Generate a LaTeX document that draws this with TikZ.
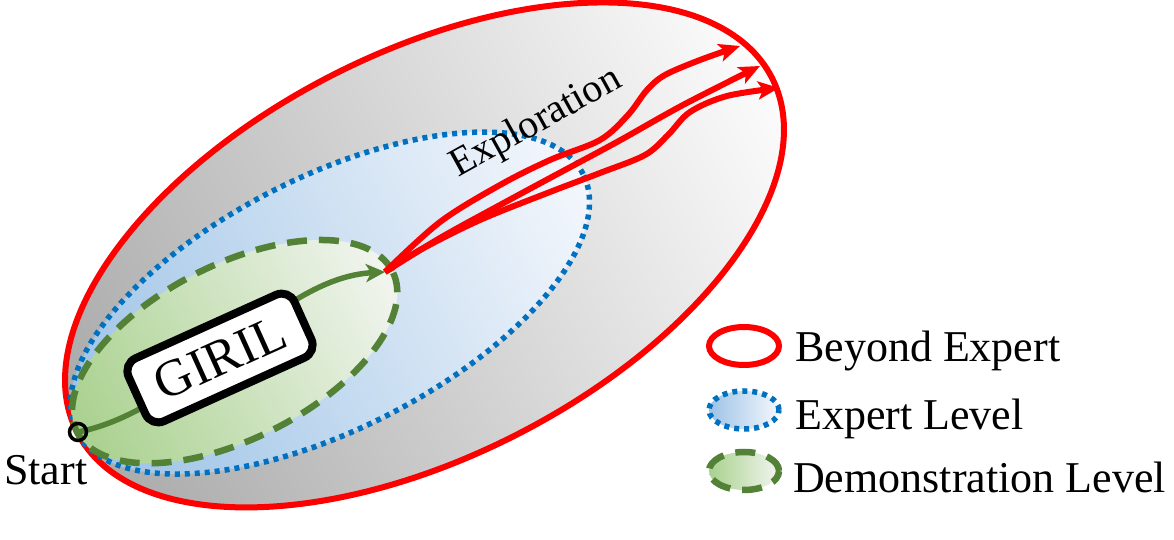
\documentclass[tikz,border=0pt]{standalone}
\usepackage{fontspec}
\setmainfont{Liberation Serif}
\newfontfamily\tnr{Liberation Serif}
\usetikzlibrary{arrows.meta,calc}
\definecolor{redE}{HTML}{FF0000}
\definecolor{blueE}{HTML}{0070C0}
\definecolor{greenE}{HTML}{538135}
\definecolor{grayL}{HTML}{AAAAAA}
\definecolor{grayR}{HTML}{FCFCFC}
\definecolor{blueL}{HTML}{9DC3E6}
\definecolor{blueR}{HTML}{F4F7FC}
\definecolor{greenL}{HTML}{A9D18E}
\definecolor{greenR}{HTML}{F2F5F0}
\begin{document}
\begin{tikzpicture}[x=1pt,y=1pt,
  beyond/.style={draw=redE, line width=6pt},
  expert/.style={draw=blueE, line width=5.5pt, dash pattern=on 5pt off 5pt},
  demo/.style={draw=greenE, line width=6.5pt, dash pattern=on 20pt off 12pt},
  explore/.style={draw=redE, line width=6pt, line join=round, -{Stealth[length=21pt,width=18pt,inset=5pt]}},
  trajectory/.style={draw=greenE, line width=5.5pt, -{Stealth[length=19pt,width=18pt,inset=5pt]}},
  legtext/.style={anchor=base west, font=\tnr\fontsize{44}{50}\selectfont, inner sep=0pt},
  method/.style={draw=black, fill=white, line width=8pt, rounded corners=14pt,
    minimum width=182pt, minimum height=69pt, inner sep=0pt, font=\tnr\fontsize{52}{58}\selectfont},
  startpt/.style={circle, draw=black, line width=3.5pt, minimum size=17pt, inner sep=0pt}
]
\useasboundingbox (0,0) rectangle (1174,540);

% nested regions sharing the start vertex (canvas-rotated so the gradients follow the axis)
\begin{scope}[transform canvas={shift={(77,108)}, rotate=27}]
  \shade[left color=grayL, right color=grayR] (390,0) ellipse [x radius=390, y radius=202];
  \path[beyond] (390,0) ellipse [x radius=390, y radius=202];
  \shade[left color=blueL, right color=blueR] (284,0) ellipse [x radius=284, y radius=126];
  \path[expert] (284,0) ellipse [x radius=284, y radius=126];
  \shade[left color=greenL, right color=greenR] (177,0) ellipse [x radius=177, y radius=87];
  \path[demo] (177,0) ellipse [x radius=177, y radius=87];
\end{scope}

\coordinate (S) at (78,108);
\coordinate (P) at (385,268);
\coordinate (e1) at (740,494);
\coordinate (e2) at (760,474);
\coordinate (e3) at (779,452);

% demonstration trajectory (behind GIRIL box)
\draw[trajectory] (S) .. controls (190,130) and (275,262) .. (P);

\node[method, rotate=24.3] (giril) at (220,182) {GIRIL};

% exploration arrows
\draw[explore] plot[smooth, tension=0.55] coordinates {(P) (440,318) (500,355) (550,380) (600,400) (628,425) (647,450) (665,465) (700,480) (e1)};
\draw[explore] plot[smooth, tension=0.55] coordinates {(P) (440,302) (500,335) (550,362) (617,398) (683,435) (e2)};
\draw[explore] plot[smooth, tension=0.55] coordinates {(P) (420,290) (480,320) (550,348) (600,367) (645,385) (668,405) (690,428) (727,444) (e3)};

\node[anchor=base, rotate=29, font=\tnr\fontsize{40}{46}\selectfont, inner sep=0pt] (expl) at (541,408) {Exploration};

\node[startpt] (start) at (S) {};
\node[legtext] (startlbl) at (4,55) {Start};

% legend
\path[beyond] (744,194) ellipse [x radius=35, y radius=19];
\shade[left color=blueL, right color=blueR] (744,130) ellipse [x radius=35, y radius=19];
\path[expert] (744,130) ellipse [x radius=35, y radius=19];
\shade[left color=greenL, right color=greenR] (744,69) ellipse [x radius=35, y radius=19];
\path[demo] (744,69) ellipse [x radius=35, y radius=19];
\node[legtext] (l1) at (795,178) {Beyond Expert};
\node[legtext] (l2) at (795,110) {Expert Level};
\node[legtext] (l3) at (793,47) {Demonstration Level};
\end{tikzpicture}
\end{document}
